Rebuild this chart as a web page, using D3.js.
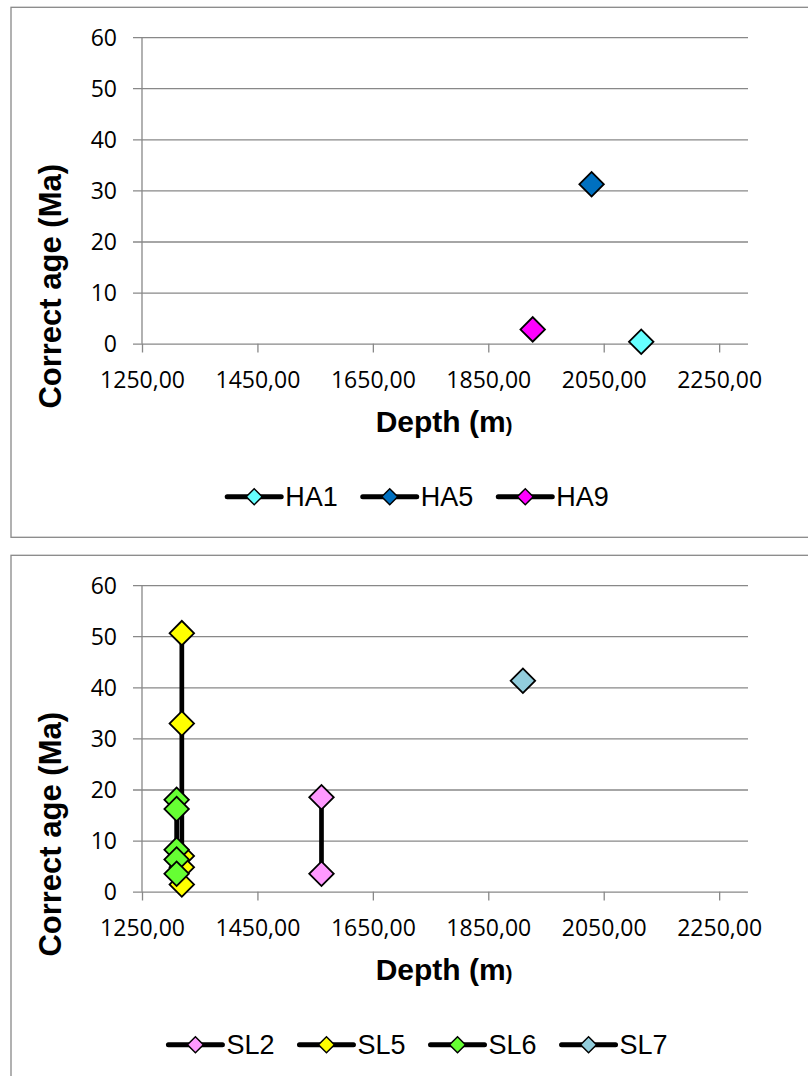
<!DOCTYPE html>
<html><head><meta charset="utf-8">
<script src="https://cdn.jsdelivr.net/npm/d3@7"></script>
<style>body{margin:0;background:#fff}</style></head>
<body><svg id="c" width="808" height="1076" xmlns="http://www.w3.org/2000/svg"></svg>
<script>
// ---- data ----
const xTicks = [1250, 1450, 1650, 1850, 2050, 2250];
const yTicks = [0, 10, 20, 30, 40, 50, 60];
const yTitle = "Correct age (Ma)";
const xTitle = "Depth (m";

const namesA  = ["HA1", "HA5", "HA9"];
const colorsA = ["#66FFFF", "#0070C0", "#FF00FF"];
const depthHA1 = [2115], ageHA1 = [0.4];
const depthHA5 = [2029], ageHA5 = [31.2];
const depthHA9 = [1927], ageHA9 = [2.8];

const namesB  = ["SL2", "SL5", "SL6", "SL7"];
const colorsB = ["#FF99FF", "#FFFF00", "#66FF33", "#92CDDC"];
const depthSL2 = [1561, 1561], ageSL2 = [18.5, 3.5];
const depthSL5 = [1319, 1319, 1319, 1319, 1319], ageSL5 = [50.6, 32.9, 7.0, 4.8, 1.4];
const depthSL6 = [1310, 1310, 1310, 1310, 1310], ageSL6 = [18.0, 16.2, 8.2, 6.3, 3.5];
const depthSL7 = [1910], ageSL7 = [41.3];

// ---- drawing ----
const svg = d3.select("#c");
const x = d3.scaleLinear().domain([1250, 2300]).range([142, 748]);
const y = d3.scaleLinear().domain([0, 60]).range([336.4, 29.8]);
const grid = "#888888";
const fmt = d => d.toFixed(2).replace(".", ",");

function chart(top, names, colors, depths, ages) {
  const g = svg.append("g").attr("transform", `translate(0,${top})`);
  g.append("rect").attr("x", 11).attr("y", 0).attr("width", 820).attr("height", 530)
    .attr("fill", "#fff").attr("stroke", grid).attr("stroke-width", 1.3);

  // y axis with gridlines
  const ya = g.append("g").attr("transform", "translate(133,0)")
    .call(d3.axisLeft(y).tickValues(yTicks).tickSize(-(748 - 133)).tickPadding(16));
  ya.select(".domain").remove();
  ya.selectAll("line").attr("stroke", grid).attr("stroke-width", 1.3);
  ya.selectAll("text").attr("font-family", "Open Sans").attr("font-size", 23).attr("fill", "#000").attr("dy", "0.36em");

  // x axis
  const xa = g.append("g").attr("transform", `translate(0,${y(0)})`)
    .call(d3.axisBottom(x).tickValues(xTicks).tickSize(8.8).tickPadding(18.7).tickFormat(fmt));
  xa.select(".domain").remove();
  xa.selectAll("line").attr("stroke", grid).attr("stroke-width", 1.3);
  xa.selectAll("text").attr("font-family", "Open Sans").attr("font-size", 23).attr("fill", "#000");

  g.append("line").attr("x1", x(1250)).attr("x2", x(1250)).attr("y1", y(60)).attr("y2", y(0))
    .attr("stroke", grid).attr("stroke-width", 1.3);

  // titles
  g.append("text").attr("transform", "translate(61,279) rotate(-90)").attr("text-anchor", "middle")
    .attr("font-family", "Liberation Sans").attr("font-weight", "bold").attr("font-size", 31).text(yTitle);
  const xt = g.append("text").attr("x", 444).attr("y", 424.4).attr("text-anchor", "middle")
    .attr("font-family", "Liberation Sans").attr("font-weight", "bold").attr("font-size", 30);
  xt.append("tspan").text(xTitle);
  xt.append("tspan").attr("font-size", 20).text(")");

  // series
  const line = d3.line().x(d => x(d[0])).y(d => y(d[1]));
  const sym = d3.symbol(d3.symbolSquare, 300);
  names.forEach((n, i) => {
    const pts = depths[i].map((d, k) => [d, ages[i][k]]);
    const sg = g.append("g");
    if (pts.length > 1) {
      sg.append("path").attr("d", line(pts)).attr("fill", "none").attr("stroke", "#000")
        .attr("stroke-width", 4.7);
    }
    sg.selectAll("path.m").data(pts).join("path").attr("class", "m")
      .attr("d", sym).attr("transform", d => `translate(${x(d[0])},${y(d[1])}) rotate(45)`)
      .attr("fill", colors[i]).attr("stroke", "#000").attr("stroke-width", 1.8);
  });

  // legend
  const lg = g.append("g");
  const lsym = d3.symbol(d3.symbolSquare, 128);
  let lx = 0;
  names.forEach((n, i) => {
    const it = lg.append("g").attr("transform", `translate(${lx},0)`);
    it.append("line").attr("x1", 0).attr("x2", 54).attr("y1", 489.5).attr("y2", 489.5)
      .attr("stroke", "#000").attr("stroke-width", 5).attr("stroke-linecap", "round");
    it.append("path").attr("d", lsym).attr("transform", "translate(27,489.5) rotate(45)")
      .attr("fill", colors[i]).attr("stroke", "#000").attr("stroke-width", 1.5);
    const t = it.append("text").attr("x", 58).attr("y", 499).attr("font-family", "Liberation Sans")
      .attr("font-size", 27).attr("fill", "#000").text(n);
    lx += 58 + t.node().getComputedTextLength() + 25;
  });
  const total = lx - 25;
  lg.attr("transform", `translate(${418 - total / 2},0)`);
}

chart(7.3, namesA, colorsA, [depthHA1, depthHA5, depthHA9], [ageHA1, ageHA5, ageHA9]);
chart(555.3, namesB, colorsB, [depthSL2, depthSL5, depthSL6, depthSL7], [ageSL2, ageSL5, ageSL6, ageSL7]);
</script>
</body></html>
